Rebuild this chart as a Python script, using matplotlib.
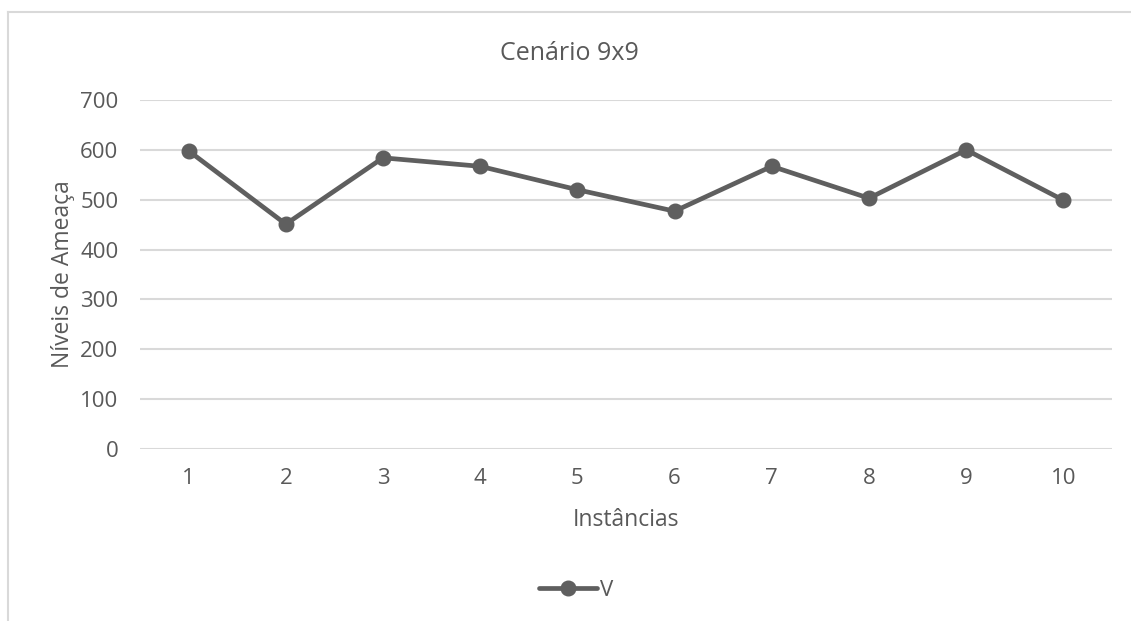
import matplotlib
matplotlib.use("Agg")
import matplotlib.pyplot as plt
from matplotlib.lines import Line2D

plt.rcParams["font.family"] = ["Open Sans", "DejaVu Sans"]

instancias = [1, 2, 3, 4, 5, 6, 7, 8, 9, 10]
niveis_v = [598, 451, 584, 567, 520, 477, 567, 503, 600, 499]
y_ticks = [0, 100, 200, 300, 400, 500, 600, 700]

TXT = "#595959"
GRID = "#d9d9d9"
LINE = "#5f5f5f"

W, H = 1131, 621
fig = plt.figure(figsize=(W / 100, H / 100), dpi=100)
ax = fig.add_axes([140 / W, 1 - 449 / H, (1112 - 140) / W, (449 - 100) / H])

ax.plot(instancias, niveis_v, color=LINE, lw=3.4, marker="o", ms=10.5,
        solid_capstyle="round", label="V")

ax.set_xlim(0.5, len(instancias) + 0.5)
ax.set_ylim(0, 700)
ax.set_yticks(y_ticks)
ax.set_xticks(instancias)
ax.grid(axis="y", color=GRID, lw=1.5)
ax.set_axisbelow(True)
for s in ax.spines.values():
    s.set_visible(False)
ax.tick_params(length=0, labelsize=16, labelcolor=TXT)
ax.tick_params(axis="y", pad=15.5)
ax.tick_params(axis="x", pad=14)

ax.set_xlabel("Instâncias", fontsize=16.5, color=TXT, labelpad=13)
ax.set_ylabel("Níveis de Ameaça", fontsize=16.5, color=TXT, labelpad=4)
fig.text(569 / W, 1 - 53 / H, "Cenário 9x9", ha="center", va="center",
         fontsize=18, color=TXT)

leg = fig.legend(handles=[Line2D([], [], color=LINE, lw=3.4, marker="o", ms=10.5,
                                 solid_capstyle="round")],
                 labels=["V"], loc="center", bbox_to_anchor=(576 / W, 1 - 590 / H),
                 frameon=False, fontsize=16, handlelength=2.6, handletextpad=0.15)
for t in leg.get_texts():
    t.set_color(TXT)

# chart frame (left and top edges)
fig.add_artist(Line2D([7.5 / W, 7.5 / W], [0, 1 - 12 / H], transform=fig.transFigure,
                      color=GRID, lw=1.5))
fig.add_artist(Line2D([7.5 / W, 1], [1 - 12 / H, 1 - 12 / H], transform=fig.transFigure,
                      color=GRID, lw=1.5))

fig.savefig("out.png", dpi=100)
